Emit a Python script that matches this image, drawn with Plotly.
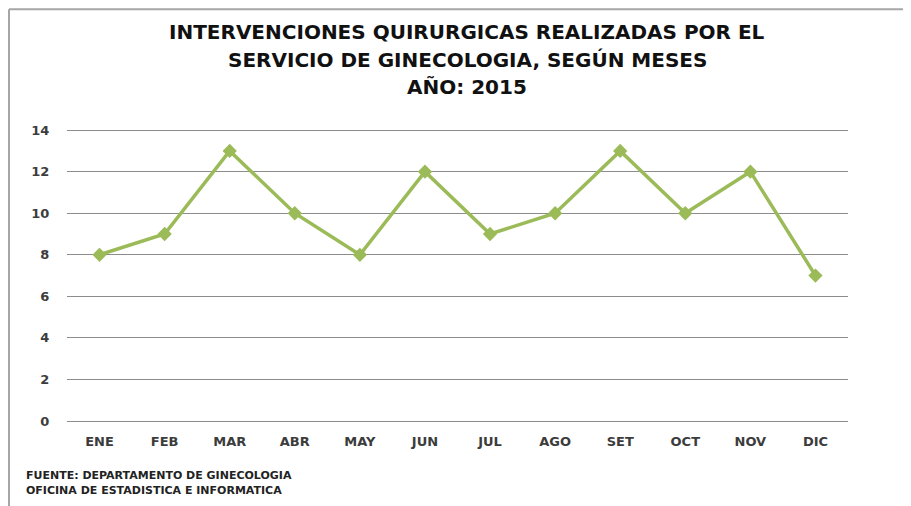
import plotly.graph_objects as go

# datos
meses = ["ENE", "FEB", "MAR", "ABR", "MAY", "JUN", "JUL", "AGO", "SET", "OCT", "NOV", "DIC"]
intervenciones = [8, 9, 13, 10, 8, 12, 9, 10, 13, 10, 12, 7]
ticks_y = [0, 2, 4, 6, 8, 10, 12, 14]

titulo = [
    "INTERVENCIONES QUIRURGICAS REALIZADAS POR EL",
    "SERVICIO DE GINECOLOGIA, SEGÚN MESES",
    "AÑO: 2015",
]
fuente = ["FUENTE: DEPARTAMENTO DE GINECOLOGIA", "OFICINA DE ESTADISTICA E INFORMATICA"]

# la pagina tiene un margen de 8px, la figura se achica para que quepa
OFF = 8
W, H = 911 - OFF, 506 - OFF
YMAX = 14.15
# bordes del area de trazado en pixeles de la referencia (14 -> y=130, 0 -> y=421)
X0, X1, Y1 = 67, 848, 421
Y0 = Y1 - (421 - 130) * YMAX / 14
L, R, T, B = X0 - OFF, W - (X1 - OFF), Y0 - OFF, H - (Y1 - OFF)
pw, ph = W - L - R, H - T - B


def px_x(x):
    return (x - OFF - L) / pw


def px_y(y):
    return (H - B - (y - OFF)) / ph


fig = go.Figure()
fig.add_trace(go.Scatter(
    x=meses, y=intervenciones,
    mode="lines+markers",
    line=dict(color="#9BBB59", width=3.5),
    marker=dict(symbol="diamond", size=11, color="#9BBB59"),
    showlegend=False,
    hoverinfo="x+y",
))

anotaciones = []
for txt, yy in zip(titulo, [32, 60, 87]):
    anotaciones.append(dict(
        text="<b>" + txt + "</b>", x=px_x(467), y=px_y(yy), xref="paper", yref="paper",
        xanchor="center", yanchor="middle", showarrow=False,
        font=dict(family="DejaVu Sans", size=20, color="#111111"),
    ))
for txt, yy in zip(fuente, [476, 491]):
    anotaciones.append(dict(
        text="<b>" + txt + "</b>", x=px_x(24), y=px_y(yy), xref="paper", yref="paper",
        xanchor="left", yanchor="middle", showarrow=False,
        font=dict(family="DejaVu Sans", size=11, color="#222222"),
    ))

fig.update_layout(
    width=W, height=H,
    margin=dict(l=L, r=R, t=T, b=B),
    paper_bgcolor="white", plot_bgcolor="white",
    annotations=anotaciones,
    xaxis=dict(
        showgrid=False, zeroline=False, showline=False,
        ticks="outside", ticklen=8, tickcolor="rgba(0,0,0,0)",
        tickfont=dict(family="DejaVu Sans", size=13, color="#3c3c3c", weight="bold"),
        range=[-0.5, 11.5],
    ),
    yaxis=dict(
        range=[0, YMAX], tickvals=ticks_y,
        showgrid=True, gridcolor="#8c8c8c", gridwidth=1.3,
        zeroline=True, zerolinecolor="#8c8c8c", zerolinewidth=1.3,
        showline=False,
        ticks="outside", ticklen=14, tickcolor="rgba(0,0,0,0)",
        tickfont=dict(family="DejaVu Sans", size=13, color="#3c3c3c", weight="bold"),
    ),
    shapes=[
        dict(type="line", xref="paper", yref="paper",
             x0=px_x(9), x1=px_x(9), y0=px_y(9), y1=px_y(520),
             line=dict(color="#a6a6a6", width=2)),
        dict(type="line", xref="paper", yref="paper",
             x0=px_x(9), x1=px_x(930), y0=px_y(9), y1=px_y(9),
             line=dict(color="#a6a6a6", width=2)),
    ],
)

fig.write_html("out.html")
